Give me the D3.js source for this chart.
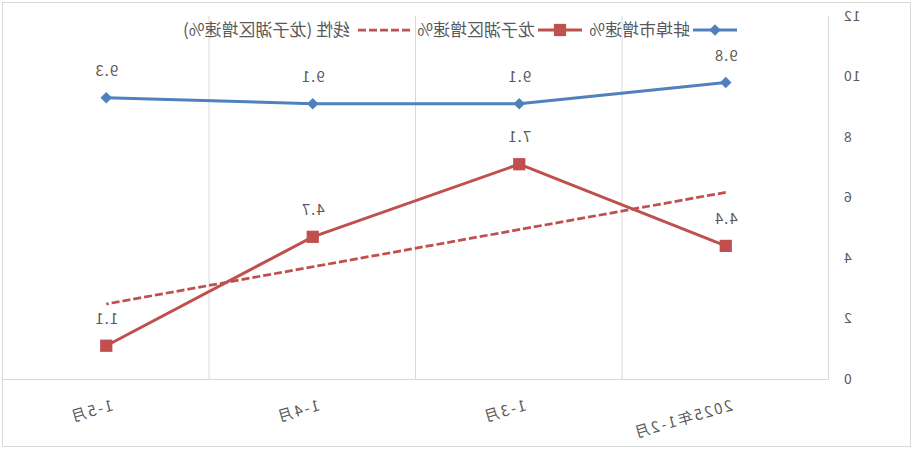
<!DOCTYPE html>
<html>
<head>
<meta charset="utf-8">
<script src="https://cdn.jsdelivr.net/npm/d3@7"></script>
<style>
  html, body { margin: 0; padding: 0; background: #fff; }
  svg { display: block; }
</style>
</head>
<body>
<div id="chart"></div>
<script>
const categories = ['2025年1-2月', '1-3月', '1-4月', '1-5月']
const cityGrowth = [9.8, 9.1, 9.1, 9.3]
const districtGrowth = [4.4, 7.1, 4.7, 1.1]
const yTicks = [0, 2, 4, 6, 8, 10, 12]
const seriesNames = ['蚌埠市增速%', '龙子湖区增速%', '线性 (龙子湖区增速%)']

const w = 912
const h = 449
const fontFamily = '"Noto Sans CJK SC", "Noto Sans", sans-serif'
const textColor = '#595959'
const blue = '#4F81BD'
const red = '#C0504D'

const margin = { left: 83, right: 3, top: 16, bottom: 70 }

const svg = d3.select('#chart')
  .append('svg')
  .attr('width', w)
  .attr('height', h)
  .style('font-family', fontFamily)

// the reference picture is a horizontal mirror image, so draw normally and flip
const g = svg.append('g')
  .attr('transform', `translate(${w}, 0) scale(-1, 1)`)

g.append('rect')
  .attr('x', 1.5)
  .attr('y', 2.5)
  .attr('width', w - 4)
  .attr('height', h - 5)
  .attr('fill', '#fff')
  .attr('stroke', '#d9d9d9')

const x = d3.scaleBand()
  .domain(categories)
  .range([margin.left, w - margin.right])

const y = d3.scaleLinear()
  .domain([0, 12])
  .range([h - margin.bottom, margin.top])

// vertical gridlines at category boundaries
const bounds = categories.map(c => x(c))
g.append('g')
  .selectAll('line')
  .data(bounds)
  .join('line')
    .attr('x1', d => d + 0.5)
    .attr('x2', d => d + 0.5)
    .attr('y1', y(12))
    .attr('y2', y(0))
    .attr('stroke', '#d9d9d9')

// x axis line
g.append('line')
  .attr('x1', x.range()[0])
  .attr('x2', x.range()[1])
  .attr('y1', y(0) + 0.5)
  .attr('y2', y(0) + 0.5)
  .attr('stroke', '#d9d9d9')

// y tick labels
g.append('g')
  .selectAll('text')
  .data(yTicks)
  .join('text')
    .attr('x', 69)
    .attr('y', d => y(d))
    .attr('dy', '0.35em')
    .attr('text-anchor', 'end')
    .attr('fill', textColor)
    .style('font-size', '14px')
    .style('letter-spacing', '1px')
    .text(d => d)

// x labels, rotated
g.append('g')
  .selectAll('text')
  .data(categories)
  .join('text')
    .attr('transform', d => `translate(${x(d) + x.bandwidth() / 2 - 8}, 410) rotate(16)`)
    .attr('fill', textColor)
    .style('font-size', '15px')
    .style('letter-spacing', '2px')
    .text(d => d)

const cx = d => x(d) + x.bandwidth() / 2

// linear trend of the district series (least squares over category index)
const n = districtGrowth.length
const xs = districtGrowth.map((d, i) => i + 1)
const mx = d3.mean(xs)
const my = d3.mean(districtGrowth)
const slope = d3.sum(xs, (v, i) => (v - mx) * (districtGrowth[i] - my)) / d3.sum(xs, v => (v - mx) ** 2)
const trend = [1, n].map(v => [v, my + slope * (v - mx)])

g.append('path')
  .datum(trend)
  .attr('fill', 'none')
  .attr('stroke', red)
  .attr('stroke-width', 2.75)
  .attr('stroke-dasharray', '8,3')
  .attr('d', d3.line()
    .x(d => cx(categories[d[0] - 1]))
    .y(d => y(d[1])))

const line = d3.line()
  .x((d, i) => cx(categories[i]))
  .y(d => y(d))

g.append('path')
  .datum(districtGrowth)
  .attr('fill', 'none')
  .attr('stroke', red)
  .attr('stroke-width', 3)
  .attr('stroke-linejoin', 'round')
  .attr('d', line)

g.append('path')
  .datum(cityGrowth)
  .attr('fill', 'none')
  .attr('stroke', blue)
  .attr('stroke-width', 3)
  .attr('stroke-linejoin', 'round')
  .attr('d', line)

const diamond = d3.symbol().type(d3.symbolDiamond2).size(85)
const square = d3.symbol().type(d3.symbolSquare).size(150)

g.append('g')
  .selectAll('path')
  .data(districtGrowth)
  .join('path')
    .attr('transform', (d, i) => `translate(${cx(categories[i])}, ${y(d)})`)
    .attr('d', square)
    .attr('fill', red)

g.append('g')
  .selectAll('path')
  .data(cityGrowth)
  .join('path')
    .attr('transform', (d, i) => `translate(${cx(categories[i])}, ${y(d)})`)
    .attr('d', diamond)
    .attr('fill', blue)

// data labels
const labels = (data) => g.append('g')
  .selectAll('text')
  .data(data)
  .join('text')
    .attr('x', (d, i) => cx(categories[i]))
    .attr('y', d => y(d) - 22)
    .attr('text-anchor', 'middle')
    .attr('fill', textColor)
    .style('font-size', '15px')
    .style('letter-spacing', '1px')
    .text(d => d.toFixed(1))

labels(cityGrowth)
labels(districtGrowth)

// legend
const legend = g.append('g')
  .attr('transform', 'translate(0, 30)')
  .style('font-size', '17px')

const item0 = legend.append('g').attr('transform', 'translate(175, 0)')
item0.append('line')
  .attr('x1', 0).attr('x2', 44)
  .attr('stroke', blue).attr('stroke-width', 3)
item0.append('path')
  .attr('transform', 'translate(22, 0)')
  .attr('d', diamond)
  .attr('fill', blue)
item0.append('text')
  .attr('x', 47).attr('dy', '0.35em')
  .attr('fill', textColor)
  .text(seriesNames[0])

const item1 = legend.append('g').attr('transform', 'translate(330, 0)')
item1.append('line')
  .attr('x1', 0).attr('x2', 44)
  .attr('stroke', red).attr('stroke-width', 3)
item1.append('path')
  .attr('transform', 'translate(22, 0)')
  .attr('d', square)
  .attr('fill', red)
item1.append('text')
  .attr('x', 47).attr('dy', '0.35em')
  .attr('fill', textColor)
  .text(seriesNames[1])

const item2 = legend.append('g').attr('transform', 'translate(502, 0)')
item2.append('line')
  .attr('x1', 0).attr('x2', 55)
  .attr('stroke', red).attr('stroke-width', 2.75)
  .attr('stroke-dasharray', '8,3')
item2.append('text')
  .attr('x', 60).attr('dy', '0.35em')
  .attr('fill', textColor)
  .text(seriesNames[2])
</script>
</body>
</html>
